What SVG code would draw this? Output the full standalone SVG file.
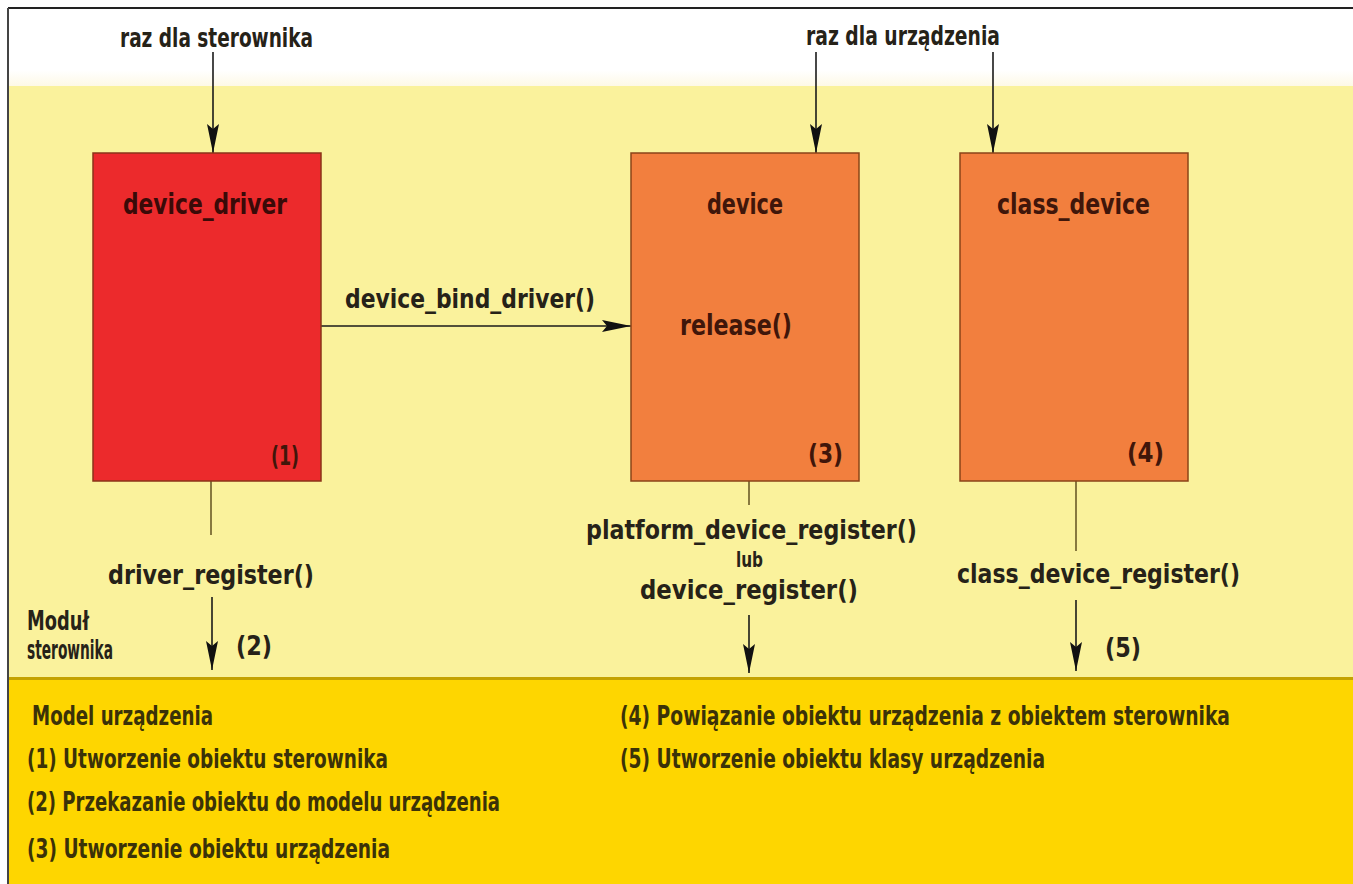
<svg xmlns="http://www.w3.org/2000/svg" width="1353" height="884" viewBox="0 0 1353 884">
<style>
  text { font-family: "DejaVu Sans Condensed", "DejaVu Sans", "Liberation Sans", sans-serif; font-weight: bold; }
  .lbl { font-size: 27px; fill: #262218; }
  .sm { font-size: 22px; fill: #262218; }
  .node-red { font-size: 29px; fill: #3a0a08; }
  .node-or { font-size: 29px; fill: #40160a; }
  .num { font-size: 26px; fill: #40160a; }
  .leg { font-size: 26px; fill: #3b3208; }
  .box-red { fill: #EC2A2C; stroke: #8a3418; stroke-width: 1.5; }
  .box-or { fill: #F27F3E; stroke: #8a4418; stroke-width: 1.5; }
  .arr { stroke: #1a1a1a; stroke-width: 1.6; fill: none; marker-end: url(#ah); }
  .ln { stroke: #6b5a28; stroke-width: 1.6; fill: none; }
</style>
<defs>
  <linearGradient id="topfade" x1="0" y1="0" x2="0" y2="1">
    <stop offset="0" stop-color="#ffffff"/>
    <stop offset="0.8" stop-color="#ffffff"/>
    <stop offset="1" stop-color="#fdf9e6"/>
  </linearGradient>
  <marker id="ah" markerUnits="userSpaceOnUse" markerWidth="30" markerHeight="14" refX="29" refY="6" orient="auto">
    <path d="M0,0 L29,6 L0,12 L5,6 Z" fill="#111"/>
  </marker>
</defs>

<g id="background">
  <rect x="0" y="0" width="1353" height="884" fill="#ffffff"/>
  <rect x="8" y="8" width="1345" height="78" fill="url(#topfade)"/>
  <rect x="8" y="86" width="1345" height="592" fill="#FAF29C"/>
  <rect x="8" y="678" width="1345" height="206" fill="#FED600"/>
  <line x1="8" y1="678.5" x2="1353" y2="678.5" stroke="#C4A200" stroke-width="3"/>
  <line x1="8" y1="8" x2="1353" y2="8" stroke="#222" stroke-width="2"/>
  <line x1="8" y1="8" x2="8" y2="884" stroke="#444" stroke-width="2"/>
</g>

<g id="connectors">
  <line class="arr" x1="213" y1="52" x2="213" y2="153"/>
  <line class="arr" x1="816" y1="52" x2="816" y2="153"/>
  <line class="arr" x1="993" y1="52" x2="993" y2="153"/>
  <line class="arr" x1="321" y1="326" x2="631" y2="326"/>
  <line class="ln" x1="211" y1="481" x2="211" y2="535"/>
  <line class="arr" x1="212" y1="597" x2="212" y2="670"/>
  <line class="ln" x1="749" y1="481" x2="749" y2="505"/>
  <line class="arr" x1="749" y1="615" x2="749" y2="673"/>
  <line class="ln" x1="1076" y1="481" x2="1076" y2="551"/>
  <line class="arr" x1="1076" y1="600" x2="1076" y2="671"/>
</g>

<g id="labels">
  <text class="lbl" x="120" y="47" textLength="193" lengthAdjust="spacingAndGlyphs">raz dla sterownika</text>
  <text class="lbl" x="806" y="45" textLength="194" lengthAdjust="spacingAndGlyphs">raz dla urządzenia</text>
  <text class="lbl" x="345" y="308" textLength="250" lengthAdjust="spacingAndGlyphs">device_bind_driver()</text>
  <text class="lbl" x="108" y="584" textLength="206" lengthAdjust="spacingAndGlyphs">driver_register()</text>
  <text class="lbl" x="27" y="630" textLength="62" lengthAdjust="spacingAndGlyphs">Moduł</text>
  <text class="lbl" x="27" y="659" textLength="86" lengthAdjust="spacingAndGlyphs">sterownika</text>
  <text class="lbl" x="236" y="655" textLength="36" lengthAdjust="spacingAndGlyphs">(2)</text>
  <text class="lbl" x="586" y="539" textLength="331" lengthAdjust="spacingAndGlyphs">platform_device_register()</text>
  <text class="sm" x="736" y="567" textLength="27" lengthAdjust="spacingAndGlyphs">lub</text>
  <text class="lbl" x="640" y="599" textLength="218" lengthAdjust="spacingAndGlyphs">device_register()</text>
  <text class="lbl" x="957" y="583" textLength="283" lengthAdjust="spacingAndGlyphs">class_device_register()</text>
  <text class="lbl" x="1105" y="657" textLength="36" lengthAdjust="spacingAndGlyphs">(5)</text>
</g>

<g id="node-device_driver">
  <rect class="box-red" x="93" y="153" width="228" height="328"/>
  <text class="node-red" x="123" y="214" textLength="164" lengthAdjust="spacingAndGlyphs">device_driver</text>
  <text class="num" x="271" y="465" textLength="28" lengthAdjust="spacingAndGlyphs">(1)</text>
</g>

<g id="node-device">
  <rect class="box-or" x="631" y="153" width="228" height="328"/>
  <text class="node-or" x="707" y="214" textLength="76" lengthAdjust="spacingAndGlyphs">device</text>
  <text class="node-or" x="680" y="335" textLength="112" lengthAdjust="spacingAndGlyphs">release()</text>
  <text class="num" x="808" y="463" textLength="35" lengthAdjust="spacingAndGlyphs">(3)</text>
</g>

<g id="node-class_device">
  <rect class="box-or" x="960" y="153" width="228" height="328"/>
  <text class="node-or" x="997" y="214" textLength="153" lengthAdjust="spacingAndGlyphs">class_device</text>
  <text class="num" x="1127" y="462" textLength="37" lengthAdjust="spacingAndGlyphs">(4)</text>
</g>

<g id="legend">
  <text class="leg" x="32" y="725" textLength="181" lengthAdjust="spacingAndGlyphs">Model urządzenia</text>
  <text class="leg" x="27" y="768" textLength="361" lengthAdjust="spacingAndGlyphs">(1) Utworzenie obiektu sterownika</text>
  <text class="leg" x="27" y="811" textLength="473" lengthAdjust="spacingAndGlyphs">(2) Przekazanie obiektu do modelu urządzenia</text>
  <text class="leg" x="27" y="858" textLength="363" lengthAdjust="spacingAndGlyphs">(3) Utworzenie obiektu urządzenia</text>
  <text class="leg" x="620" y="725" textLength="610" lengthAdjust="spacingAndGlyphs">(4) Powiązanie obiektu urządzenia z obiektem sterownika</text>
  <text class="leg" x="620" y="768" textLength="425" lengthAdjust="spacingAndGlyphs">(5) Utworzenie obiektu klasy urządzenia</text>
</g>
</svg>
